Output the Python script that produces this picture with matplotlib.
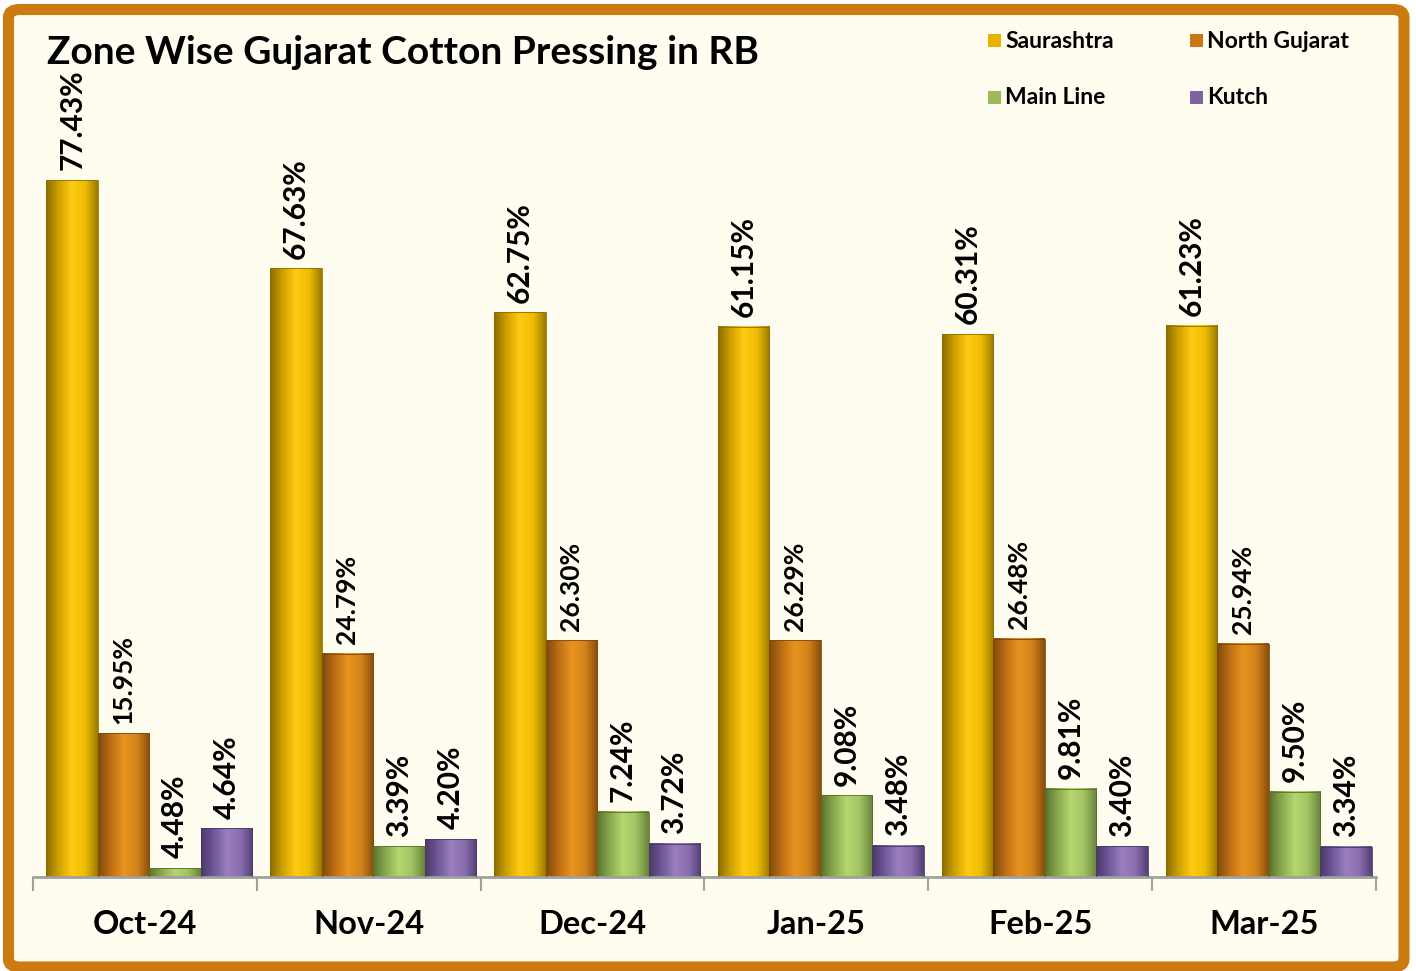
import numpy as np
import matplotlib
matplotlib.use("Agg")
import matplotlib.pyplot as plt
from matplotlib.colors import LinearSegmentedColormap
from matplotlib.patches import FancyBboxPatch, Rectangle

months = ["Oct-24", "Nov-24", "Dec-24", "Jan-25", "Feb-25", "Mar-25"]
zones = ["Saurashtra", "North Gujarat", "Main Line", "Kutch"]

saurashtra = [77.43, 67.63, 62.75, 61.15, 60.31, 61.23]
north_gujarat = [15.95, 24.79, 26.30, 26.29, 26.48, 25.94]
main_line = [4.48, 3.39, 7.24, 9.08, 9.81, 9.50]
kutch = [4.64, 4.20, 3.72, 3.48, 3.40, 3.34]

# in the source the Oct-24 Main Line / Kutch bars are not drawn at their labelled height
main_line_bar = [1.0, 3.39, 7.24, 9.08, 9.81, 9.50]
kutch_bar = [5.4, 4.20, 3.72, 3.48, 3.40, 3.34]

legend_colors = ["#E9B200", "#CB7713", "#9CBA5A", "#7F63A0"]
gradients = [
    ["#8C6E00", "#D0A200", "#FFCB12", "#F0BC06", "#9A7800"],
    ["#7E480A", "#BE6F15", "#E8931F", "#D5831A", "#874E0C"],
    ["#58722C", "#8CAA50", "#B6D670", "#A3C262", "#66823A"],
    ["#4A3766", "#70589A", "#9A7EC0", "#8A70B0", "#563F74"],
]

plt.rcParams["font.family"] = ["Lato", "DejaVu Sans"]
plt.rcParams["font.weight"] = "bold"

W, H = 1416, 971
fig = plt.figure(figsize=(W / 100, H / 100), dpi=100)
fig.patch.set_facecolor("white")

# rounded orange frame
frame = FancyBboxPatch((8.5 / W, 4 / H), (1404 - 8.5) / W, (961.5 - 4) / H,
                       boxstyle="round,pad=0,rounding_size=0.008",
                       transform=fig.transFigure, facecolor="#FFFCF0",
                       edgecolor="#CC7A12", linewidth=8, zorder=0)
fig.add_artist(frame)

ax = fig.add_axes([33 / W, 1 - 877 / H, (1376 - 33) / W, 810 / H])
ax.set_facecolor("none")

series = [saurashtra, north_gujarat, main_line, kutch]
bar_heights = [saurashtra, north_gujarat, main_line_bar, kutch_bar]
x = np.arange(len(months))
bw = 0.23
offset = 0.02

grad = np.linspace(0, 1, 256).reshape(1, -1)
for i, (vals, hts) in enumerate(zip(series, bar_heights)):
    pos = x + offset + (i - 1.5) * bw
    cmap = LinearSegmentedColormap.from_list(zones[i], gradients[i])
    bars = ax.bar(pos, hts, bw, color="none", edgecolor=gradients[i][0],
                  linewidth=0.6, zorder=3)
    for b in bars:
        x0, w, h = b.get_x(), b.get_width(), b.get_height()
        ax.imshow(grad, cmap=cmap, extent=(x0, x0 + w, 0, h),
                  aspect="auto", zorder=2, interpolation="bilinear")
    fs = 19 if i == 1 else 21.5
    for p, h, v in zip(pos, hts, vals):
        ax.annotate(f"{v:.2f}%", (p, h), xytext=(0, 7), textcoords="offset points",
                    rotation=90, ha="center", va="bottom", fontsize=fs,
                    fontweight="bold", color="black", zorder=4)

ax.set_xlim(-0.5, 5.5)
ax.set_ylim(0, 90)

for s in ["top", "right", "left"]:
    ax.spines[s].set_visible(False)
ax.spines["bottom"].set_color("#A0A0A0")
ax.spines["bottom"].set_linewidth(2)
ax.set_yticks([])

ax.set_xticks(np.arange(-0.5, 6, 1))
ax.set_xticklabels([])
ax.tick_params(axis="x", which="major", length=10, width=1.5, color="#A0A0A0",
               direction="out")
ax.set_xticks(x, minor=True)
ax.set_xticklabels(months, minor=True, fontsize=23.5, fontweight="bold")
ax.tick_params(axis="x", which="minor", length=0, pad=24)

fig.text(47 / W, 1 - 52 / H, "Zone Wise Gujarat Cotton Pressing in RB",
         fontsize=28, fontweight="bold", ha="left", va="center")

# legend, 2 x 2
leg_pos = [(988, 41), (1190, 41), (988, 98), (1190, 98)]
for (lx, ly), name, c in zip(leg_pos, zones, legend_colors):
    fig.add_artist(Rectangle((lx / W, 1 - (ly + 6.5) / H), 13 / W, 13 / H,
                             transform=fig.transFigure, facecolor=c,
                             edgecolor="none"))
    fig.text((lx + 17) / W, 1 - ly / H, name, fontsize=16.5, fontweight="bold",
             ha="left", va="center")

fig.savefig("out.png", dpi=100, facecolor=fig.get_facecolor())
